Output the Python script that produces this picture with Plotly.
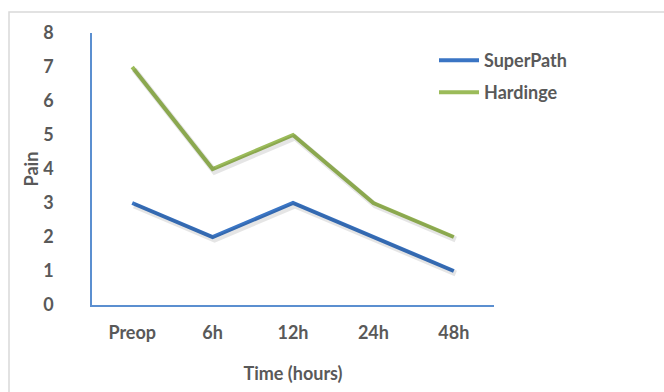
import plotly.graph_objects as go

# Pain scores over time for the two surgical approaches
times = ["Preop", "6h", "12h", "24h", "48h"]
superpath = [3, 2, 3, 2, 1]
hardinge = [7, 4, 5, 3, 2]

BLUE = "#3A75C4"
GREEN = "#9BBB59"
TEXT = "#595959"
FONT = "Lato"
FS = 18

W, H = 664, 392
L, R, T, B = 92, 170, 33, 87
pw, ph = W - L - R, H - T - B

bold = dict(family=FONT, size=FS, color=TEXT, weight="bold")

fig = go.Figure()

# soft drop shadows drawn on a slightly offset overlay axis
for vals in (superpath, hardinge):
    fig.add_trace(go.Scatter(
        x=times, y=vals, mode="lines", xaxis="x2", yaxis="y2",
        line=dict(color="rgba(0,0,0,0.10)", width=6),
        showlegend=False, hoverinfo="skip"))

fig.add_trace(go.Scatter(x=times, y=superpath, name="SuperPath", mode="lines",
                         line=dict(color=BLUE, width=4), legend="legend"))
fig.add_trace(go.Scatter(x=times, y=hardinge, name="Hardinge", mode="lines",
                         line=dict(color=GREEN, width=4), legend="legend2"))

dx = 2.0 / (pw / 5)   # shadow offset in category units
dy = 2.5 / (ph / 8)   # shadow offset in value units


def legend_at(top_px):
    return dict(x=(434 - L) / pw, y=(H - B - top_px) / ph,
                xanchor="left", yanchor="top", font=bold,
                bgcolor="rgba(0,0,0,0)", itemwidth=40)


fig.update_layout(
    width=W, height=H,
    margin=dict(l=L, r=R, t=T, b=B),
    paper_bgcolor="white", plot_bgcolor="white",
    font=dict(family=FONT, color=TEXT, size=FS),
    xaxis=dict(type="category", range=[-0.5, 4.5], showgrid=False,
               showline=True, linecolor="#5B8FD0", linewidth=1.5,
               ticks="", ticklabelstandoff=11, tickfont=bold,
               title=dict(text="Time (hours)", standoff=25, font=bold),
               zeroline=False),
    yaxis=dict(range=[0, 8], dtick=1, showgrid=False,
               showline=True, linecolor="#5B8FD0", linewidth=1.5,
               ticks="", ticklabelstandoff=33, tickfont=bold,
               title=dict(text="Pain", standoff=0, font=bold),
               zeroline=False),
    xaxis2=dict(type="category", range=[-0.5 - dx, 4.5 - dx], overlaying="x",
                visible=False),
    yaxis2=dict(range=[0 + dy, 8 + dy], overlaying="y", visible=False),
    legend=legend_at(42),
    legend2=legend_at(74),
    shapes=[dict(type="rect", xref="paper", yref="paper",
                 x0=(9 - L) / pw, x1=1 + (W + 20 - (W - R)) / pw,
                 y0=-(B + 20) / ph, y1=1 + (T - 12) / ph,
                 line=dict(color="#D9D9D9", width=1.5), fillcolor="rgba(0,0,0,0)",
                 layer="below")],
)

fig.write_html("out.html")
